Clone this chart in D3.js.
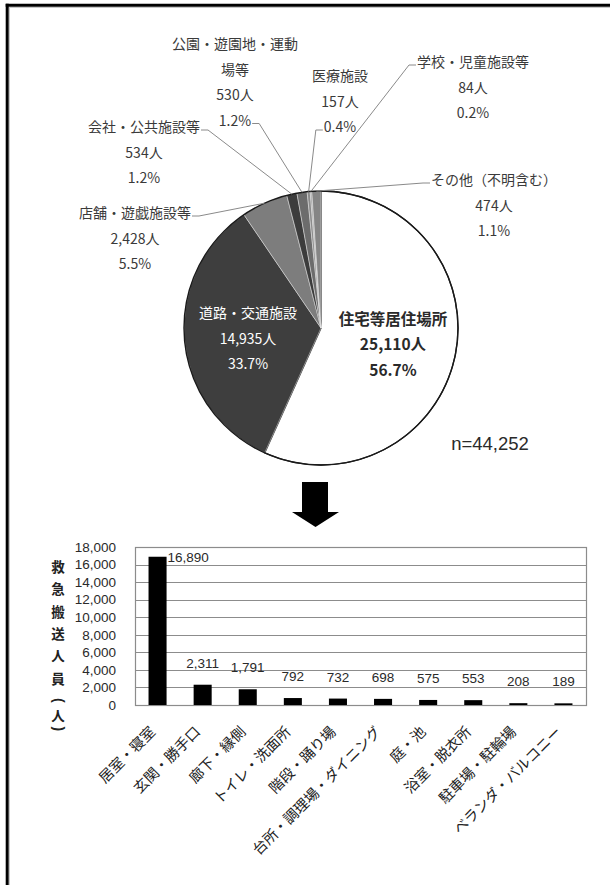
<!DOCTYPE html>
<html lang="ja">
<head>
<meta charset="utf-8">
<script src="https://cdn.jsdelivr.net/npm/d3@7"></script>
<style>
  html, body { margin: 0; padding: 0; background: #fff; }
  svg { display: block; }
  text { font-family: "Noto Sans CJK JP", "Noto Sans", sans-serif; }
</style>
</head>
<body>
<svg id="chart" width="610" height="885"></svg>
<script>
// ---- Pie: place of occurrence ----
const pieCategories = [
  "住宅等居住場所",
  "道路・交通施設",
  "店舗・遊戯施設等",
  "会社・公共施設等",
  "公園・遊園地・運動\n場等",
  "医療施設",
  "学校・児童施設等",
  "その他（不明含む）"
];
const pieValues = [25110, 14935, 2428, 534, 530, 157, 84, 474];
const pieTotalLabel = "n=44,252";

// ---- Bars: rooms inside dwellings ----
const barCategories = [
  "居室・寝室", "玄関・勝手口", "廊下・縁側", "トイレ・洗面所", "階段・踊り場",
  "台所・調理場・ダイニング", "庭・池", "浴室・脱衣所", "駐車場・駐輪場", "ベランダ・バルコニー"
];
const barValues = [16890, 2311, 1791, 792, 732, 698, 575, 553, 208, 189];
const yTicks = [0, 2000, 4000, 6000, 8000, 10000, 12000, 14000, 16000, 18000];
const yTitle = "救急搬送人員（人）";

// ---- styling / layout ----
const numFont = "'Liberation Sans', Arial, sans-serif";
const sliceFill = ["#ffffff", "#3e3e3e", "#7d7d7d", "#3c3c3c", "#6c6c6c", "#8c8c8c", "#a2a2a2", "#858585"];
// label block: centre x, centre y of first line, text colour, size, weight,
// leader: which line it leaves from and on which side of the text
const labelLayout = [
  { x: 393, y: 319, color: "#2a2a2a", size: 15.5, weight: 700, leader: null },
  { x: 248, y: 313, color: "#ffffff", size: 14, weight: 400, leader: null },
  { x: 135, y: 213, color: "#3a3a3a", size: 14, weight: 400, leader: { line: 0, side: "right" } },
  { x: 144, y: 127, color: "#3a3a3a", size: 14, weight: 400, leader: { line: 0, side: "right" } },
  { x: 235, y: 44,  color: "#3a3a3a", size: 14, weight: 400, leader: { line: 3, side: "right" } },
  { x: 340, y: 76,  color: "#3a3a3a", size: 14, weight: 400, leader: { line: 2, side: "left" } },
  { x: 473, y: 62,  color: "#3a3a3a", size: 14, weight: 400, leader: { line: 0, side: "left" } },
  { x: 494, y: 180, color: "#3a3a3a", size: 14, weight: 400, leader: { line: 0, side: "left" } }
];
const lineGap = 25.5;

const svg = d3.select("#chart");
svg.append("rect").attr("width", 610).attr("height", 885).attr("fill", "#fff");

// page frame (top and left rules)
svg.append("line").attr("x1", 6).attr("x2", 610).attr("y1", 7.5).attr("y2", 7.5)
  .attr("stroke", "#c8c8c8").attr("stroke-width", 1);
svg.append("line").attr("x1", 9.5).attr("x2", 9.5).attr("y1", 7).attr("y2", 885)
  .attr("stroke", "#c8c8c8").attr("stroke-width", 1);
svg.append("line").attr("x1", 5.7).attr("x2", 610).attr("y1", 5.3).attr("y2", 5.3)
  .attr("stroke", "#000").attr("stroke-width", 3);
svg.append("line").attr("x1", 7.2).attr("x2", 7.2).attr("y1", 3.8).attr("y2", 885)
  .attr("stroke", "#000").attr("stroke-width", 3);

// ---------- pie ----------
const cx = 321, cy = 328, R = 137;
const total = d3.sum(pieValues);
const pctFmt = d3.format(".1f");
const numFmt = d3.format(",");

const pie = d3.pie().sort(null).value(d => d)(pieValues);
const arc = d3.arc().innerRadius(0).outerRadius(R);
const gPie = svg.append("g").attr("transform", `translate(${cx},${cy})`);

gPie.selectAll("path.slice").data(pie).join("path")
  .attr("class", "slice")
  .attr("d", arc)
  .attr("fill", (d, i) => sliceFill[i])
  .attr("stroke", (d, i) => i === 0 ? "#1a1a1a" : "#e6e6e6")
  .attr("stroke-width", (d, i) => i === 0 ? 1.3 : 0.5);
gPie.append("circle").attr("r", R).attr("fill", "none")
  .attr("stroke", "#1a1a1a").attr("stroke-width", 1.4);

// labels
const gLab = svg.append("g");
pie.forEach((d, i) => {
  const L = labelLayout[i];
  const lines = pieCategories[i].split("\n").concat([
    numFmt(pieValues[i]) + "人",
    pctFmt(pieValues[i] / total * 100) + "%"
  ]);
  const t = gLab.append("g");
  const texts = lines.map((s, k) =>
    t.append("text")
      .attr("x", L.x).attr("y", L.y + k * lineGap)
      .attr("dy", "0.36em")
      .attr("text-anchor", "middle")
      .attr("font-size", L.size)
      .attr("font-weight", L.weight)
      .attr("fill", L.color)
      .text(s)
  );
  if (L.leader) {
    const node = texts[L.leader.line].node();
    const w = node.getComputedTextLength();
    const ly = L.y + L.leader.line * lineGap + 3;
    const dir = L.leader.side === "right" ? 1 : -1;
    const sx = L.x + dir * (w / 2 + 1);
    const ex = sx + dir * 7;
    const mid = (d.startAngle + d.endAngle) / 2;
    const px = cx + R * Math.sin(mid);
    const py = cy - R * Math.cos(mid);
    gLab.append("path")
      .attr("d", d3.line()([[sx, ly], [ex, ly], [px, py]]))
      .attr("fill", "none")
      .attr("stroke", "#8a8a8a")
      .attr("stroke-width", 1);
  }
});

svg.append("text")
  .attr("x", 490).attr("y", 443).attr("dy", "0.36em")
  .attr("text-anchor", "middle")
  .style("font-family", numFont)
  .attr("font-size", 18.5)
  .attr("fill", "#2a2a2a")
  .text(pieTotalLabel);

// ---------- arrow ----------
svg.append("path")
  .attr("d", "M302,482 L328,482 L328,512 L339,512 L315.5,527 L292,512 L302,512 Z")
  .attr("fill", "#000");

// ---------- bar chart ----------
const plot = { left: 135, right: 586, top: 547, bottom: 705 };
const x = d3.scaleBand().domain(barCategories)
  .range([plot.left, plot.right]).paddingInner(0.6).paddingOuter(0.3);
const y = d3.scaleLinear().domain([0, 18000]).range([plot.bottom, plot.top]);

const gBar = svg.append("g");
gBar.selectAll("line.grid").data(yTicks).join("line")
  .attr("class", "grid")
  .attr("x1", plot.left).attr("x2", plot.right)
  .attr("y1", d => Math.round(y(d)) + 0.5).attr("y2", d => Math.round(y(d)) + 0.5)
  .attr("stroke", "#8c8c8c").attr("stroke-width", 1.2);
gBar.append("rect")
  .attr("x", plot.left + 0.5).attr("y", plot.top + 0.5)
  .attr("width", plot.right - plot.left).attr("height", plot.bottom - plot.top)
  .attr("fill", "none").attr("stroke", "#8c8c8c").attr("stroke-width", 1.2);

const yAxis = d3.axisLeft(y).tickValues(yTicks).tickFormat(d3.format(","))
  .tickSize(0).tickPadding(19);
const gY = gBar.append("g").attr("transform", `translate(${plot.left},0)`).call(yAxis);
gY.select(".domain").remove();
gY.selectAll("text")
  .attr("font-size", 13.5)
  .attr("fill", "#2a2a2a")
  .style("font-family", numFont);

gBar.selectAll("rect.bar").data(barValues).join("rect")
  .attr("class", "bar")
  .attr("x", (d, i) => x(barCategories[i]))
  .attr("width", x.bandwidth())
  .attr("y", d => y(d))
  .attr("height", d => y(0) - y(d))
  .attr("fill", "#000");

// value labels: above the bar, on a common line for short bars,
// beside the bar when it reaches the top of the plot
gBar.selectAll("text.val").data(barValues).join("text")
  .attr("class", "val")
  .each(function (d, i) {
    const t = d3.select(this);
    const above = Math.min(y(d) - 17, 686);
    if (above < plot.top + 8) {
      t.attr("x", x(barCategories[i]) + x.bandwidth() + 1)
        .attr("y", y(d) + 5).attr("text-anchor", "start");
    } else {
      t.attr("x", x(barCategories[i]) + x.bandwidth() / 2)
        .attr("y", above).attr("text-anchor", "middle");
    }
  })
  .attr("font-size", 13.5)
  .style("font-family", numFont)
  .attr("fill", "#2a2a2a")
  .text(d => numFmt(d));

// category labels, rotated
gBar.selectAll("text.cat").data(barCategories).join("text")
  .attr("class", "cat")
  .attr("transform", d => `translate(${x(d) + x.bandwidth() / 2 - 5},${plot.bottom + 24}) rotate(-45)`)
  .attr("dy", "0.36em")
  .attr("text-anchor", "end")
  .attr("font-size", 14.5)
  .attr("fill", "#222")
  .text(d => d);

// vertical axis title: one glyph per row, brackets turned to vertical form
const gT = gBar.append("g");
let ty = 567;
Array.from(yTitle).forEach((ch) => {
  const open = ch === "（", close = ch === "）";
  if (open || close) {
    const cyc = ty + (open ? -1 : -10);
    gT.append("text")
      .attr("transform", `translate(58,${cyc}) rotate(90)`)
      .attr("text-anchor", "middle").attr("dy", "0.32em")
      .style("font-family", numFont)
      .attr("font-size", 14).attr("font-weight", 700).attr("fill", "#222")
      .text(open ? "(" : ")");
    ty += open ? 15 : 0;
  } else {
    gT.append("text")
      .attr("x", 58).attr("y", ty).attr("dy", "0.36em")
      .attr("text-anchor", "middle")
      .attr("font-size", 13.5).attr("font-weight", 700).attr("fill", "#222")
      .text(ch);
    ty += 22.4;
  }
});
</script>
</body>
</html>
